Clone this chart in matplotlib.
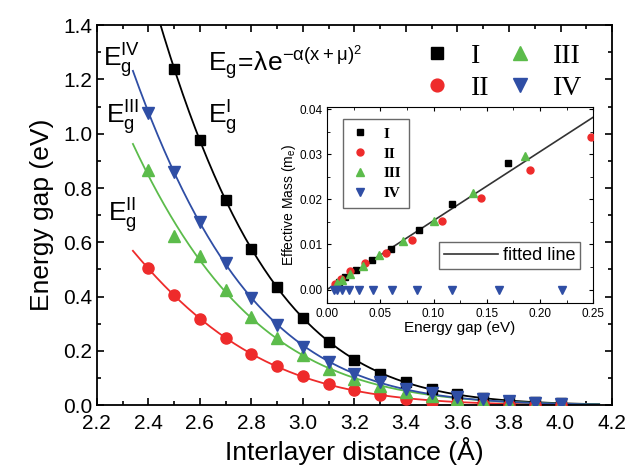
import numpy as np
import matplotlib
matplotlib.use("Agg")
import matplotlib.pyplot as plt
from matplotlib.ticker import MultipleLocator

plt.rcParams['font.family'] = ['Liberation Sans', 'DejaVu Sans']
plt.rcParams['mathtext.default'] = 'regular'

# main panel data: interlayer distance vs energy gap
x_I = np.array([2.5, 2.6, 2.7, 2.8, 2.9, 3.0, 3.1, 3.2, 3.3, 3.4, 3.5, 3.6, 3.7, 3.8, 3.9, 4.0])
E_I = np.array([1.24, 0.976, 0.755, 0.577, 0.436, 0.32, 0.233, 0.166, 0.116, 0.086,
                0.060, 0.042, 0.027, 0.017, 0.011, 0.007])
x_II = np.array([2.4, 2.5, 2.6, 2.7, 2.8, 2.9, 3.0, 3.1, 3.2, 3.3, 3.4, 3.5, 3.6, 3.7, 3.8, 3.9, 4.0])
E_II = np.array([0.504, 0.405, 0.316, 0.246, 0.19, 0.144, 0.107, 0.078, 0.055, 0.036,
                 0.022, 0.013, 0.007, 0.004, 0.002, 0.001, 0.0005])
x_III = np.array([2.4, 2.5, 2.6, 2.7, 2.8, 2.9, 3.0, 3.1, 3.2, 3.3, 3.4, 3.5, 3.6, 3.7, 3.8, 3.9, 4.0])
E_III = np.array([0.866, 0.623, 0.549, 0.426, 0.325, 0.249, 0.184, 0.135, 0.098, 0.07,
                  0.049, 0.034, 0.022, 0.014, 0.009, 0.005, 0.003])
x_IV = np.array([2.4, 2.5, 2.6, 2.7, 2.8, 2.9, 3.0, 3.1, 3.2, 3.3, 3.4, 3.5, 3.6, 3.7, 3.8, 3.9, 4.0])
E_IV = np.array([1.077, 0.86, 0.675, 0.522, 0.394, 0.295, 0.215, 0.158, 0.115, 0.084,
                 0.061, 0.044, 0.030, 0.021, 0.014, 0.009, 0.006])

# inset data: energy gap vs effective mass
g_I = np.array([0.17, 0.117, 0.086, 0.060, 0.042, 0.027, 0.017, 0.011])
m_I = np.array([0.028, 0.019, 0.0133, 0.0089, 0.0065, 0.0043, 0.0027, 0.0017])
g_II = np.array([0.248, 0.191, 0.145, 0.108, 0.080, 0.055, 0.036, 0.022, 0.013, 0.007])
m_II = np.array([0.0338, 0.0265, 0.0203, 0.0153, 0.011, 0.0082, 0.0058, 0.0040, 0.0024, 0.0013])
g_III = np.array([0.186, 0.137, 0.100, 0.071, 0.049, 0.034, 0.022, 0.014, 0.009])
m_III = np.array([0.0295, 0.0215, 0.0153, 0.0108, 0.0077, 0.0052, 0.0035, 0.0022, 0.0014])
g_IV = np.array([0.2206, 0.1617, 0.117, 0.0843, 0.0608, 0.0435, 0.0304, 0.021, 0.0138, 0.009, 0.0063])
m_IV = np.zeros(len(g_IV))
fit_slope = 0.1528

c_I, c_II, c_III, c_IV = 'black', '#ee2b2b', '#5cbc4b', '#2f4ea5'


def gauss_fit(x, y, xs):
    # Eg = lambda*exp(-alpha*(x+mu)^2) -> quadratic in log space
    coef = np.polyfit(x, np.log(y), 2, w=y)
    return np.exp(np.polyval(coef, xs))


fig = plt.figure(figsize=(6.29, 4.75), dpi=100)
ax = fig.add_axes([0.154, 0.147, 0.819, 0.800])

xs = np.linspace(2.34, 4.15, 300)
series = [(x_I, E_I, c_I, 's', 'I', 7.5), (x_II, E_II, c_II, 'o', 'II', 8),
          (x_III, E_III, c_III, '^', 'III', 9), (x_IV, E_IV, c_IV, 'v', 'IV', 9)]
handles = []
for xd, yd, col, mk, lab, ms in series:
    ax.plot(xs, gauss_fit(xd, yd, xs), color=col, lw=1.3, zorder=2)
    h, = ax.plot(xd, yd, mk, color=col, ms=ms, ls='none', zorder=3, label=lab)
    handles.append(h)

ax.set_xlim(2.2, 4.2)
ax.set_ylim(0.0, 1.4)
ax.xaxis.set_major_locator(MultipleLocator(0.2))
ax.xaxis.set_minor_locator(MultipleLocator(0.1))
ax.yaxis.set_major_locator(MultipleLocator(0.2))
ax.yaxis.set_minor_locator(MultipleLocator(0.1))
ax.tick_params(which='both', direction='in', top=True, right=True, width=1.2)
ax.tick_params(which='major', length=5, labelsize=15)
ax.tick_params(which='minor', length=3)
ax.tick_params(axis='x', pad=6)
ax.set_xticks(np.arange(2.2, 4.21, 0.2))
ax.set_xticklabels(['%.1f' % v for v in np.arange(2.2, 4.21, 0.2)])
ax.set_xlabel('Interlayer distance (Å)', fontsize=19, labelpad=3)
ax.set_ylabel('Energy gap (eV)', fontsize=19, labelpad=6)
for sp in ax.spines.values():
    sp.set_linewidth(1.3)

ax.text(2.225, 1.27, r'$E_g^{IV}$', fontsize=19, va='center')
ax.text(2.235, 1.06, r'$E_g^{III}$', fontsize=19, va='center')
ax.text(2.245, 0.70, r'$E_g^{II}$', fontsize=19, va='center')
ax.text(2.63, 1.06, r'$E_g^{I}$', fontsize=19, va='center')
ax.text(2.63, 1.26, r'$E_g\!=\!\lambda e^{-\alpha(x+\mu)^2}$', fontsize=19, va='center')

leg = ax.legend(handles=handles, ncol=2, loc='upper right', bbox_to_anchor=(0.975, 0.995),
                frameon=False, prop={'family': 'Liberation Serif', 'size': 20},
                markerscale=1.15, handlelength=1.0, handletextpad=0.7,
                columnspacing=0.6, labelspacing=0.22, borderpad=0.1)

# inset
ins = fig.add_axes([0.52, 0.362, 0.423, 0.413])
gl = np.linspace(0, 0.25, 50)
fl, = ins.plot(gl, fit_slope * gl, color='#333333', lw=1.2, label='fitted line', zorder=2)
ih = []
for gd, md, col, mk, lab, ms in [(g_I, m_I, c_I, 's', 'I', 4.5), (g_II, m_II, c_II, 'o', 'II', 5),
                                 (g_III, m_III, c_III, '^', 'III', 5.5), (g_IV, m_IV, c_IV, 'v', 'IV', 5.5)]:
    h, = ins.plot(gd, md, mk, color=col, ms=ms, ls='none', label=lab, zorder=3)
    ih.append(h)
ins.set_xlim(0, 0.25)
ins.set_ylim(-0.003, 0.0405)
ins.xaxis.set_major_locator(MultipleLocator(0.05))
ins.xaxis.set_minor_locator(MultipleLocator(0.025))
ins.yaxis.set_major_locator(MultipleLocator(0.01))
ins.yaxis.set_minor_locator(MultipleLocator(0.005))
ins.tick_params(which='both', direction='in', top=True, right=True, labelsize=8.5)
ins.tick_params(which='major', length=3)
ins.tick_params(which='minor', length=2)
ins.xaxis.set_major_formatter(plt.FormatStrFormatter('%.2f'))
ins.yaxis.set_major_formatter(plt.FormatStrFormatter('%.2f'))
ins.set_xlabel('Energy gap (eV)', fontsize=11, labelpad=1)
ins.set_ylabel('Effective Mass (m$_e$)', fontsize=10, labelpad=1)

lg1 = ins.legend(handles=ih, loc='upper left', bbox_to_anchor=(0.03, 0.975), fancybox=False,
                 edgecolor='#444444', prop={'family': 'Liberation Serif', 'weight': 'bold', 'size': 11},
                 handlelength=1.3, handletextpad=0.9, labelspacing=0.4, borderpad=0.5)
ins.add_artist(lg1)
ins.legend(handles=[fl], loc='lower right', bbox_to_anchor=(0.985, 0.13), fancybox=False,
           edgecolor='#444444', fontsize=13, handlelength=3.0, handletextpad=0.3, borderpad=0.25)

fig.savefig('out.png', dpi=100)
